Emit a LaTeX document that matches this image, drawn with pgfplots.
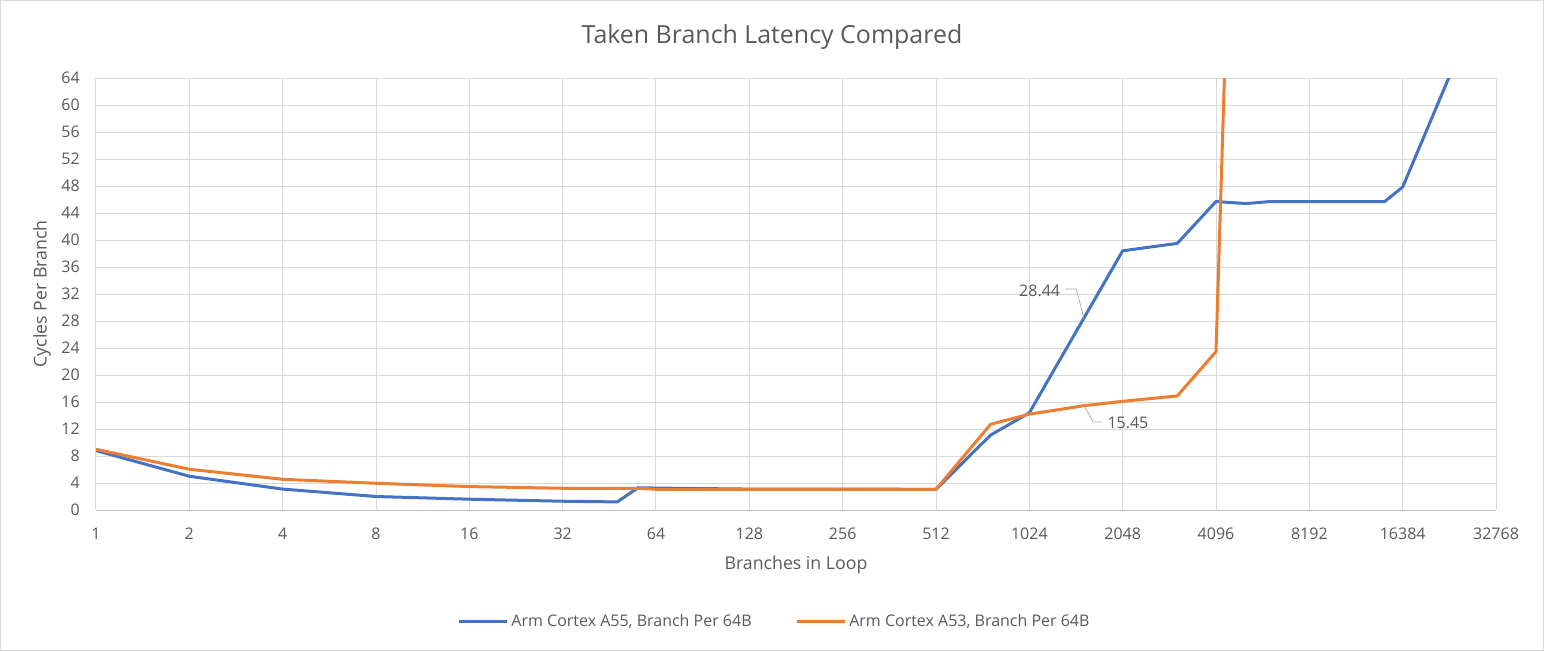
\documentclass[border=0pt]{standalone}
\usepackage{fontspec}
\setmainfont{Open Sans}
\usepackage{pgfplots}
\pgfplotsset{compat=1.18}
\definecolor{serA}{HTML}{4472C4}
\definecolor{serB}{HTML}{ED7D31}
\definecolor{gridc}{HTML}{D9D9D9}
\definecolor{axisc}{HTML}{BFBFBF}
\definecolor{txt}{HTML}{595959}
\definecolor{lead}{HTML}{A6A6A6}
\begin{document}
\begin{tikzpicture}
\path[use as bounding box] (-72pt,-105.75pt) rectangle (1086pt,382.5pt);
\draw[gridc, line width=0.75pt] (-71.6pt,-105.35pt) rectangle (1085.6pt,382.1pt);
\begin{axis}[
  scale only axis, width=1050pt, height=324pt,
  xmode=log, log basis x=2,
  xmin=1, xmax=32768, ymin=0, ymax=64,
  xtick={1,2,4,8,16,32,64,128,256,512,1024,2048,4096,8192,16384,32768},
  xticklabels={1,2,4,8,16,32,64,128,256,512,1024,2048,4096,8192,16384,32768},
  ytick={0,4,...,64},
  /pgf/number format/assume math mode=true,
  major tick length=0pt,
  grid=major,
  major grid style={gridc, line width=0.75pt},
  axis line style={draw=none},
  tick label style={font=\fontsize{12}{14}\selectfont, text=txt},
  xticklabel style={anchor=center, yshift=-18pt},
  yticklabel style={anchor=east, inner sep=0pt, xshift=-12pt},
  xlabel={Branches in Loop},
  ylabel={Cycles Per Branch},
  label style={font=\fontsize{13.3}{15}\selectfont, text=txt},
  xlabel style={at={(axis description cs:0.5,0)}, anchor=center, yshift=-41.25pt},
  ylabel style={at={(axis description cs:0,0.5)}, anchor=center, yshift=40.5pt},
  legend columns=2,
  legend style={at={(axis description cs:0.485,0)}, anchor=center, yshift=-83.25pt,
    draw=none, fill=none, font=\fontsize{12}{14}\selectfont, text=txt,
    /tikz/every even column/.append style={column sep=30pt},
    nodes={inner sep=2.5pt}},
  legend image code/.code={\draw[#1, line width=2.25pt] (0pt,0pt) -- (36pt,0pt);},
  every axis plot/.append style={line width=2.25pt, line join=round},
]
\draw[axisc, line width=0.75pt] (rel axis cs:0,0) -- (rel axis cs:1,0);
\addplot[serA, no marks] coordinates {
 (1,8.8) (2,5.0) (4,3.1) (8,2.0) (16,1.6) (32,1.3) (48,1.2) (56,3.3) (64,3.25)
 (128,3.1) (256,3.1) (512,3.06) (768,11.1) (1024,14.4) (1536,28.44) (2048,38.4)
 (3072,39.5) (4096,45.7) (5120,45.4) (6144,45.7) (8192,45.7) (14336,45.7)
 (16384,47.85) (24576,67)
};
\addlegendentry{Arm Cortex A55, Branch Per 64B}
\addplot[serB, no marks] coordinates {
 (1,9.0) (2,6.04) (4,4.55) (8,3.96) (16,3.47) (32,3.22) (56,3.22) (64,3.07)
 (128,3.06) (256,3.06) (512,3.06) (768,12.7) (1024,14.2) (1536,15.45) (2048,16.1)
 (3072,16.9) (4096,23.46) (4608,100)
};
\addlegendentry{Arm Cortex A53, Branch Per 64B}
\draw[lead, line width=0.5pt] (axis cs:1536,28.44) -- ++(-5.7pt,21.75pt) -- ++(-8.3pt,0pt);
\node[anchor=east, text=txt, font=\fontsize{12}{14}\selectfont, inner sep=0pt] at ([xshift=-17.7pt,yshift=20.25pt]axis cs:1536,28.44) {28.44};
\draw[lead, line width=0.5pt] (axis cs:1536,15.45) -- ++(7pt,-12.2pt) -- ++(6.8pt,0pt);
\node[anchor=west, text=txt, font=\fontsize{12}{14}\selectfont, inner sep=0pt] at ([xshift=17.5pt,yshift=-12.7pt]axis cs:1536,15.45) {15.45};
\end{axis}
\node[text=txt, font=\fontsize{18.7}{22}\selectfont] at (507pt,354.75pt) {Taken Branch Latency Compared};
\end{tikzpicture}
\end{document}
